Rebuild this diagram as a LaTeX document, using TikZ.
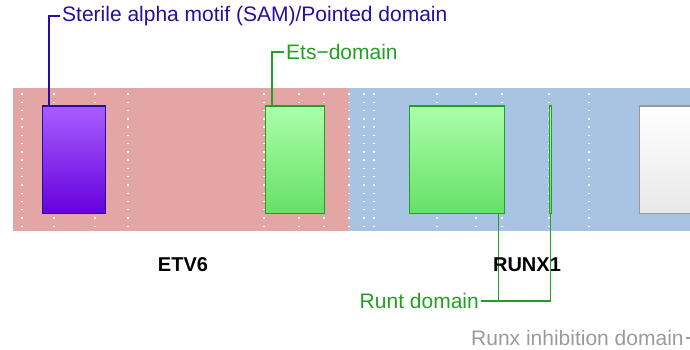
\documentclass[tikz,border=0pt]{standalone}
\usepackage{fontspec}
\setmainfont{Liberation Sans}
\usetikzlibrary{positioning, calc}
\definecolor{etvpink}{HTML}{E4A5A5}
\definecolor{runxblue}{HTML}{A8C4E2}
\definecolor{samdark}{HTML}{2A0D9E}
\definecolor{samtop}{HTML}{A85EFF}
\definecolor{sambot}{HTML}{6600DD}
\definecolor{domgreen}{HTML}{22A022}
\definecolor{greentop}{HTML}{AAFFAA}
\definecolor{greenbot}{HTML}{66E066}
\definecolor{muted}{HTML}{9A9A9A}
\definecolor{boxgrey}{HTML}{999999}
\tikzset{
  geneband/.style={
    fill=#1, draw=none,
    anchor=north west, inner sep=0pt,
    minimum height=143pt,
  },
  dotline/.style={white, line width=1.4pt, dash pattern=on 1.4pt off 6.87pt},
  dombox/.style={
    anchor=north west, inner sep=0pt,
    line width=1.2pt, minimum height=107pt,
  },
  samdom/.style={dombox, draw=samdark, top color=samtop, bottom color=sambot},
  greendom/.style={dombox, draw=domgreen, top color=greentop, bottom color=greenbot},
  otherdom/.style={dombox, draw=boxgrey, top color=white, bottom color=black!9},
  domlabel/.style={font=\fontsize{21}{25}\selectfont, inner sep=2pt},
  genelabel/.style={font=\fontsize{20}{24}\selectfont\bfseries},
  samline/.style={draw=samdark, line width=1.3pt},
  greenline/.style={draw=domgreen, line width=1.3pt},
  greyline/.style={draw=muted, line width=1.3pt},
}
\begin{document}
\begin{tikzpicture}[x=1pt, y=-1pt]
  \useasboundingbox (0,0) rectangle (690,350);
  \clip (0,0) rectangle (690,350);

  % Gene bands
  \node[geneband=etvpink, minimum width=336pt] (etv) at (13,88) {};
  \node[geneband=runxblue, minimum width=360pt] (runx) at (349,88) {};

  % Dotted guides
  \foreach \x in {22,54,95,128,264,299,324,349,364,374,437,476,502,549,589}
    \draw[dotline] (\x,93.3) -- (\x,229);

  % Domains
  \node[samdom, minimum width=62.5pt] (sam) at (42,105.5) {};
  \node[greendom, minimum width=59pt] (ets) at (265,105.5) {};
  \node[greendom, minimum width=95pt] (runt) at (409,105.5) {};
  \node[greendom, minimum width=1.5pt] (runtb) at (549.2,105.5) {};
  \node[otherdom, minimum width=80pt] (rid) at (638.5,105.5) {};

  % Domain labels
  \node[domlabel, samdark, anchor=west] (samlbl) at (60,16) {Sterile alpha motif (SAM)/Pointed domain};
  \node[domlabel, domgreen, anchor=west] (etslbl) at (284,52) {Ets−domain};
  \node[domlabel, domgreen, anchor=east] (runtlbl) at (481,301) {Runt domain};
  \node[domlabel, muted, anchor=west] (ridlbl) at (469,338) {Runx inhibition domain};

  % Connectors
  \draw[samline] ($(sam.north west)+(7,0)$) |- (samlbl.west);
  \draw[greenline] ($(ets.north west)+(7,0)$) |- (etslbl.west);
  \draw[greenline] ($(runt.south east)+(-7,0)$) |- (runtlbl.east);
  \draw[greenline] (runtb.south) |- (runtlbl.east);
  \draw[greyline] ($(rid.south east)+(-7,0)$) |- (ridlbl.east);

  % Gene names
  \node[genelabel] (etvname) at (183,265) {ETV6};
  \node[genelabel] (runxname) at (527,265) {RUNX1};

\end{tikzpicture}
\end{document}
